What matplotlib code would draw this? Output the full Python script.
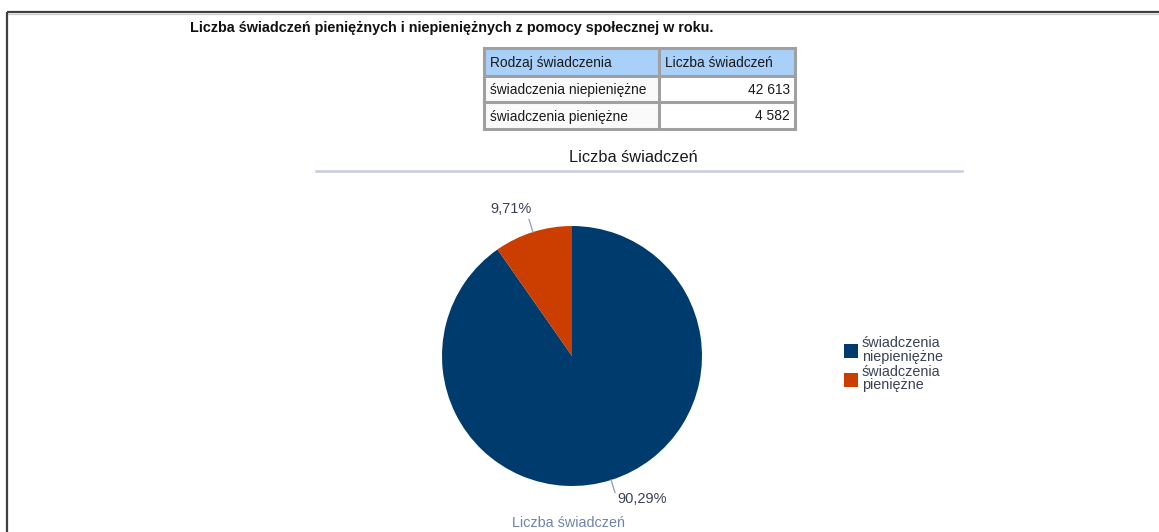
import matplotlib
matplotlib.use("Agg")
import matplotlib.pyplot as plt
from matplotlib.patches import Rectangle
import numpy as np

# ---- dane ----
categories = ["świadczenia niepieniężne", "świadczenia pieniężne"]
legend_labels = ["świadczenia\nniepieniężne", "świadczenia\npieniężne"]
values = [42613, 4582]
col_headers = ["Rodzaj świadczenia", "Liczba świadczeń"]

TITLE = "Liczba świadczeń pieniężnych i niepieniężnych z pomocy społecznej w roku."
CHART_TITLE = "Liczba świadczeń"
C_BLUE, C_ORANGE = "#003B6D", "#CC3D00"
TXT = "#3a4256"

plt.rcParams.update({"font.family": ["Liberation Sans", "DejaVu Sans"]})

W, H = 1159, 532
fig = plt.figure(figsize=(W / 100, H / 100), dpi=100)
fig.patch.set_facecolor("white")

# nakladka w pikselach (ramka, tabela, teksty)
ov = fig.add_axes([0, 0, 1, 1])
ov.set_xlim(0, W); ov.set_ylim(H, 0); ov.axis("off")

# ramka strony
ov.plot([7, W], [12, 12], color="#404040", lw=1.6, solid_capstyle="butt")
ov.plot([7, W], [13.8, 13.8], color="#c8c8c8", lw=0.8)
ov.plot([7, 7], [12, H], color="#404040", lw=1.6, solid_capstyle="butt")

ov.text(190, 28, TITLE, fontsize=10.4, color="#111111", fontweight="bold",
        va="center", ha="left")

# tabela
x0, xm, x1 = 484, 659, 795
rows_y = [48, 76, 102, 129]
ov.add_patch(Rectangle((x0, rows_y[0]), x1 - x0, rows_y[1] - rows_y[0],
                       facecolor="#a8d0f8", edgecolor="none"))
ov.add_patch(Rectangle((x0, rows_y[1]), x1 - x0, rows_y[3] - rows_y[1],
                       facecolor="white", edgecolor="none"))
ov.add_patch(Rectangle((x0, rows_y[1]), xm - x0, rows_y[3] - rows_y[1],
                       facecolor="#fafafa", edgecolor="none"))
for y in rows_y:
    ov.plot([x0, x1], [y, y], color="#a0a0a0", lw=2.2, solid_capstyle="projecting")
for x in (x0, xm, x1):
    ov.plot([x, x], [rows_y[0], rows_y[-1]], color="#a0a0a0", lw=2.2,
            solid_capstyle="projecting")
for j, h in enumerate(col_headers):
    ov.text((x0 if j == 0 else xm) + 6, (rows_y[0] + rows_y[1]) / 2 + 1, h,
            fontsize=9.9, color="#1a1a1a", va="center", ha="left")
for i, (c, v) in enumerate(zip(categories, values)):
    yc = (rows_y[i + 1] + rows_y[i + 2]) / 2 + 1
    ov.text(x0 + 6, yc, c, fontsize=9.9, color="#1a1a1a", va="center", ha="left")
    ov.text(x1 - 5, yc, f"{v:,}".replace(",", " "), fontsize=9.9, color="#1a1a1a",
            va="center", ha="right")

# tytul wykresu + linia
ov.text(633, 158, CHART_TITLE, fontsize=11.8, color="#1a1a1a", va="center", ha="center")
ov.plot([316, 962], [171, 171], color="#c8ccdc", lw=1.8)
ov.text(568, 523, CHART_TITLE, fontsize=10.4, color="#7282a8", va="center", ha="center")

# kolowy
cx, cy, R = 572, 356, 130
pa = fig.add_axes([(cx - R) / W, (H - cy - R) / H, 2 * R / W, 2 * R / H])
wedges, _ = pa.pie(values, colors=[C_BLUE, C_ORANGE], startangle=90, counterclock=False,
                   radius=1, wedgeprops=dict(linewidth=0))
pa.set_xlim(-1, 1); pa.set_ylim(-1, 1); pa.set_aspect("equal"); pa.axis("off")
for w in wedges:
    w.set_clip_on(False)

total = sum(values)
for w, v in zip(wedges, values):
    ang = np.deg2rad((w.theta1 + w.theta2) / 2)
    ca, sa = np.cos(ang), np.sin(ang)
    pa.plot([ca * 1.0, ca * 1.1], [sa * 1.0, sa * 1.1], color="#9aa4b8", lw=1, clip_on=False)
    lab = f"{100 * v / total:.2f}%".replace(".", ",")
    pa.text(ca * 1.1 + 0.02, sa * 1.1 + (0.03 if sa > 0 else 0.0), lab,
            fontsize=10.5, color=TXT, ha="left" if ca > 0 else "right",
            va="bottom" if sa > 0 else "top", clip_on=False)

# legenda
for i, (lab, col) in enumerate(zip(legend_labels, [C_BLUE, C_ORANGE])):
    y = 344 + 28.5 * i
    ov.add_patch(Rectangle((844, y), 14, 14, facecolor=col, edgecolor="none"))
    ov.text(862, y + 6, lab, fontsize=10.4, color=TXT, va="center", ha="left",
            linespacing=0.95)

fig.savefig("out.png", dpi=100)
